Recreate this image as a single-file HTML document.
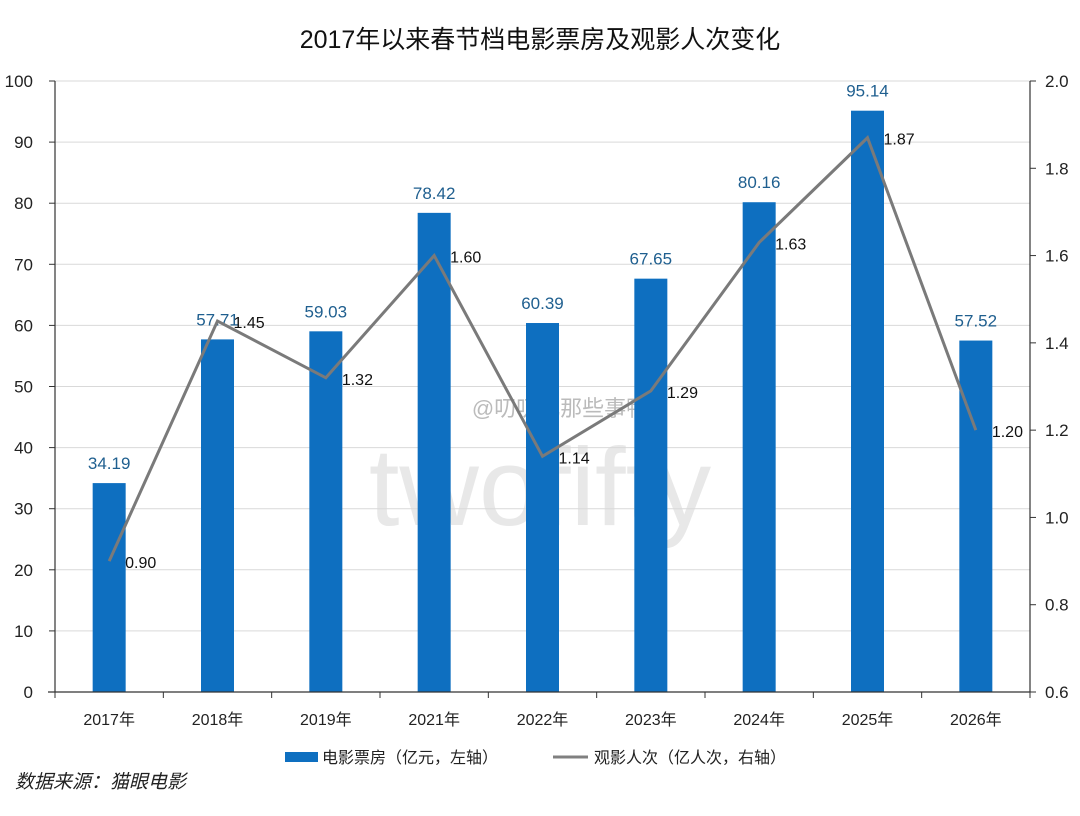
<!DOCTYPE html>
<html><head><meta charset="utf-8"><style>
body{margin:0;background:#fff;width:1080px;height:811px;overflow:hidden}
svg text{font-family:"Liberation Sans","Noto Sans CJK SC",sans-serif}
</style></head><body>
<svg id="chart" width="1080" height="811" xmlns="http://www.w3.org/2000/svg">
<text x="540" y="48" text-anchor="middle" font-size="25" fill="#111">2017年以来春节档电影票房及观影人次变化</text>
<text x="540" y="525" text-anchor="middle" font-size="110" fill="#e8e8e8">twofifty</text>
<text x="560" y="416" text-anchor="middle" font-size="22" fill="#bbb">@叨叨儿那些事鸭</text>
<g id="grid"></g><g id="bars"></g><g id="line"></g><g id="axes"></g>
<g>
<rect x="285" y="752" width="33" height="10" fill="#0e6fc0"/>
<text x="322" y="763" font-size="16" fill="#222">电影票房（亿元，左轴）</text>
<line x1="553" y1="757" x2="588" y2="757" stroke="#808080" stroke-width="3"/>
<text x="594" y="763" font-size="16" fill="#222">观影人次（亿人次，右轴）</text>
</g>
<text x="15" y="788" font-size="19" font-style="italic" fill="#222">数据来源：猫眼电影</text>
</svg>
<script>
const categories=["2017年","2018年","2019年","2021年","2022年","2023年","2024年","2025年","2026年"];
const boxOffice=[34.19,57.71,59.03,78.42,60.39,67.65,80.16,95.14,57.52];
const attendance=[0.90,1.45,1.32,1.60,1.14,1.29,1.63,1.87,1.20];
const leftTicks=[0,10,20,30,40,50,60,70,80,90,100];
const rightTicks=[0.6,0.8,1.0,1.2,1.4,1.6,1.8,2.0];
const NS="http://www.w3.org/2000/svg";
const X0=55,X1=1030,Y0=692,Y1=81;
const bw=(X1-X0)/categories.length;
const xc=i=>X0+bw*(i+0.5);
const yl=v=>Y0-(v-0)/(100-0)*(Y0-Y1);
const yr=v=>Y0-(v-0.6)/(2.0-0.6)*(Y0-Y1);
function mk(tag,attrs,parent,txt){const e=document.createElementNS(NS,tag);for(const k in attrs)e.setAttribute(k,attrs[k]);if(txt!==undefined)e.textContent=txt;document.getElementById(parent).appendChild(e);return e;}
leftTicks.forEach(t=>{
 const g=mk('line',{x1:X0,x2:X1,y1:yl(t),y2:yl(t),stroke:'#d9d9d9','stroke-width':1},'grid');
 
 
 const l=mk('text',{x:X0-22,y:yl(t)+6,'text-anchor':'end','font-size':17,fill:'#222'},'axes',String(t));
 
 
});
rightTicks.forEach(t=>{
 const l=mk('text',{x:X1+15,y:yr(t)+6,'font-size':17,fill:'#222'},'axes',t.toFixed(1));
 
 
});
categories.forEach((c,i)=>{
 const v=boxOffice[i];
 const r=mk('rect',{x:xc(i)-16.5,y:yl(v),width:33,height:Y0-yl(v),fill:'#0e6fc0'},'bars');
 
 
 const bl=mk('text',{x:xc(i),y:yl(v)-14,'text-anchor':'middle','font-size':17,fill:'#1f5f8f'},'bars',v.toFixed(2));
 
 
 const cl=mk('text',{x:xc(i),y:Y0+33,'text-anchor':'middle','font-size':16,fill:'#222'},'axes',c);
 
 
});
const pts=attendance.map((v,i)=>xc(i)+','+yr(v)).join(' ');
const pl=mk('polyline',{points:pts,fill:'none',stroke:'#7a7a7a','stroke-width':3},'line');


attendance.forEach((v,i)=>{
 const t=mk('text',{x:xc(i)+16,y:yr(v)+7,'font-size':16,fill:'#111'},'line',v.toFixed(2));
 
 
});
const ax=mk('line',{x1:X0,x2:X0,y1:Y1,y2:Y0,stroke:'#333','stroke-width':1.2},'axes');


const ax2=mk('line',{x1:X1,x2:X1,y1:Y1,y2:Y0,stroke:'#333','stroke-width':1.2},'axes');


const ax3=mk('line',{x1:X0-7,x2:X1,y1:Y0,y2:Y0,stroke:'#333','stroke-width':1.2},'axes');


for(let i=0;i<=categories.length;i++){
 const tk=mk('line',{x1:X0+bw*i,x2:X0+bw*i,y1:Y0,y2:Y0+6,stroke:'#333'},'axes');
 
 
}
leftTicks.forEach(t=>{
 const tk=mk('line',{x1:X0-6,x2:X0,y1:yl(t),y2:yl(t),stroke:'#333'},'axes');
 
 
});
rightTicks.forEach(t=>{
 const tk=mk('line',{x1:X1,x2:X1+6,y1:yr(t),y2:yr(t),stroke:'#333'},'axes');
 
 
});
</script>
</body></html>
